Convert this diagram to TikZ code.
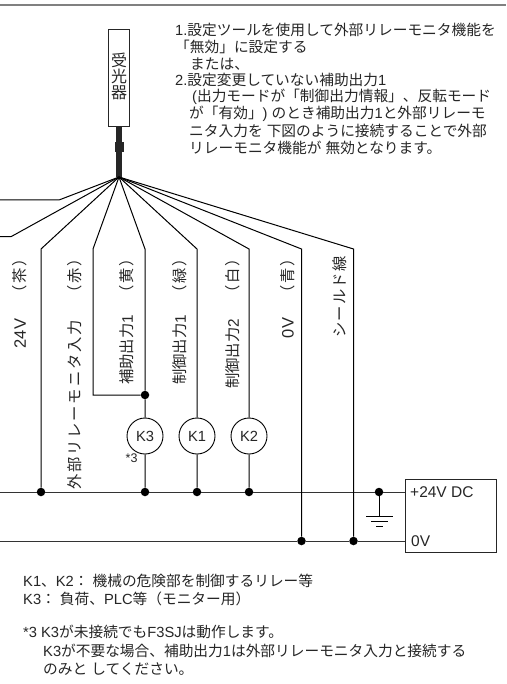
\documentclass[tikz,border=0pt]{standalone}
\usepackage{fontspec}
\setmainfont{Liberation Sans}
\newfontfamily\cjk{Noto Sans CJK JP}
\newfontfamily\cjkw[LetterSpace=12]{Noto Sans CJK JP}
\newfontfamily\cjkm[LetterSpace=7]{Noto Sans CJK JP}
\newcommand{\J}[1]{{\cjk #1}}
\newcommand{\JW}[1]{{\cjkw #1}}
\newcommand{\JM}[1]{{\cjkm #1}}
\tikzset{
  x=1pt,y=-1pt,
  txt/.style={anchor=west,inner sep=0pt,font=\fontsize{14.7}{16}\selectfont,text=black!85},
  vtxt/.style={rotate=90,anchor=center,inner sep=0pt,font=\fontsize{15.3}{16}\selectfont,text=black!85},
  vbig/.style={vtxt,font=\fontsize{16.5}{17}\selectfont},
  stk/.style={inner sep=0pt,anchor=center,font=\fontsize{16}{17}\selectfont,text=black!85},
  wire/.style={draw=black,line width=1pt},
  bus/.style={draw=black!80,line width=1pt},
  dot/.style={circle,fill=black,minimum size=8.5pt,inner sep=0pt},
  relay/.style={circle,draw=black,line width=0.9pt,fill=white,minimum size=36pt,inner sep=0pt,font=\fontsize{14.7}{16}\selectfont,text=black!85},
  boxed/.style={draw=black!85,line width=1pt,fill=white,inner sep=0pt}
}
\begin{document}
\begin{tikzpicture}
\useasboundingbox (0,0) rectangle (506,684);
\fill[white] (0,0) rectangle (506,684);
\draw[black!50,line width=2pt] (0,5.5) -- (506,5.5);

% sensor
\node[boxed,minimum width=21pt,minimum height=97pt] (sensor) at (119,78.5) {};
\node[stk] (s1) at (119,60) {\J{受}};
\node[stk] (s2) at (119,76) {\J{光}};
\node[stk] (s3) at (119,92.5) {\J{器}};
\coordinate (hub) at (119,177);
\draw[black!85,line width=5.5pt] (sensor.south) -- (hub);
\node[fill=black!85,minimum width=9pt,minimum height=10pt,inner sep=0pt] (plug) at (119,147) {};

% coordinates
\coordinate (w1) at (59,200); \coordinate (e1) at (0,200);
\coordinate (w2) at (11,236.7); \coordinate (e2) at (0,236.7);
\coordinate (b3) at (41,249);
\coordinate (b4) at (93,249);
\coordinate (b5) at (145,249);
\coordinate (b6) at (197,249);
\coordinate (b7) at (249,249);
\coordinate (b8) at (301.5,249);
\coordinate (b9) at (353.5,249);
\coordinate (l4) at (93,395);
\coordinate (busLa) at (0,492);
\coordinate (busLb) at (0,541);

% power box
\node[boxed,minimum width=91pt,minimum height=73.5pt] (psu) at (451.2,516) {};
\coordinate (psuA) at (psu.west |- busLa);
\coordinate (psuB) at (psu.west |- busLb);

% relays and dots
\node[relay] (k3) at (145,436) {K3};
\node[relay] (k1) at (197,436) {K1};
\node[relay] (k2) at (249,436) {K2};
\node[dot] (d4) at (145,395) {};
\node[dot] (d3b) at (41,492) {};
\node[dot] (d5b) at (145,492) {};
\node[dot] (d6b) at (197,492) {};
\node[dot] (d7b) at (249,492) {};
\node[dot] (dg) at (379,492) {};
\node[dot] (d8b) at (301.5,541) {};
\node[dot] (d9b) at (353.5,541) {};

% buses
\draw[bus] (busLa) -- (d3b) -- (d5b) -- (d6b) -- (d7b) -- (dg) -- (psuA);
\draw[bus] (busLb) -- (d8b) -- (d9b) -- (psuB);

% wires
\draw[wire] (hub) -- (w1) -- (e1);
\draw[wire] (hub) -- (w2) -- (e2);
\draw[wire] (hub) -- (b3) -- (d3b);
\draw[wire] (hub) -- (b4) -- (l4) -- (d4);
\draw[wire] (hub) -- (b5) -- (d4) -- (k3) -- (d5b);
\draw[wire] (hub) -- (b6) -- (k1) -- (d6b);
\draw[wire] (hub) -- (b7) -- (k2) -- (d7b);
\draw[wire] (hub) -- (b8) -- (d8b);
\draw[wire] (hub) -- (b9) -- (d9b);

% ground
\coordinate (g0) at (379,516);
\draw[wire] (dg) -- (g0);
\draw[wire] (366,516) -- (393,516);
\draw[wire] (371,521.7) -- (388,521.7);
\draw[wire] (376,526.5) -- (383,526.5);

% psu labels
\node[txt,font=\fontsize{15.5}{16}\selectfont] (tp) at (410,492) {+24V DC};
\node[txt,font=\fontsize{15.5}{16}\selectfont] (t0) at (411,541) {0V};
\node[txt,font=\fontsize{12.5}{13}\selectfont] (star) at (125.5,458.5) {*3};

% rotated labels
\node[vbig] (a1) at (20,333.5) {24V};
\node[vtxt] (a2) at (20,276) {\JW{（茶）}};
\node[vtxt] (b1) at (75,405) {\JW{外部リレーモニタ入力}};
\node[vtxt] (b2) at (75,276) {\JW{（赤）}};
\node[vtxt] (c1) at (127,350) {\J{補助出力}1};
\node[vtxt] (c2) at (127,276) {\JW{（黄）}};
\node[vtxt] (f1) at (180,350) {\J{制御出力}1};
\node[vtxt] (f2) at (180,276) {\JW{（緑）}};
\node[vtxt] (h1) at (233,354) {\J{制御出力}2};
\node[vtxt] (h2) at (233,276) {\JW{（白）}};
\node[vbig] (m1) at (288,328) {0V};
\node[vtxt] (m2) at (288,276) {\JW{（青）}};
\node[vtxt] (n1) at (340,297) {\JM{シールド線}};

% top text
\node[txt] (l1) at (175,30) {1.\J{設定ツールを使用して外部リレーモニタ機能を}};
\node[txt] (l2) at (175,47) {\J{「無効」に設定する}};
\node[txt] (l3) at (190,64.5) {\J{または、}};
\node[txt] (l5) at (175,80) {2.\J{設定変更していない補助出力}1};
\node[txt] (l6) at (192,97) {(\J{出力モードが「制御出力情報」、反転モード}};
\node[txt] (l7) at (189,114) {\J{が「有効」}) \J{のとき補助出力}1\J{と外部リレーモ}};
\node[txt] (l8) at (189,130.5) {\J{ニタ入力を} \J{下図のように接続することで外部}};
\node[txt] (l9) at (189,147.5) {\J{リレーモニタ機能が} \J{無効となります。}};

% bottom text
\node[txt] (n1a) at (23,581) {K1\J{、}K2\J{：} \J{機械の危険部を制御するリレー等}};
\node[txt] (n2a) at (23,599) {K3\J{：} \J{負荷、}PLC\J{等（モニター用）}};
\node[txt] (n3a) at (23,632) {*3 K3\J{が未接続でも}F3SJ\J{は動作します。}};
\node[txt] (n4a) at (43,651) {K3\J{が不要な場合、補助出力}1\J{は外部リレーモニタ入力と接続する}};
\node[txt] (n5a) at (43,669) {\J{のみと} \J{してください。}};
\end{tikzpicture}
\end{document}
